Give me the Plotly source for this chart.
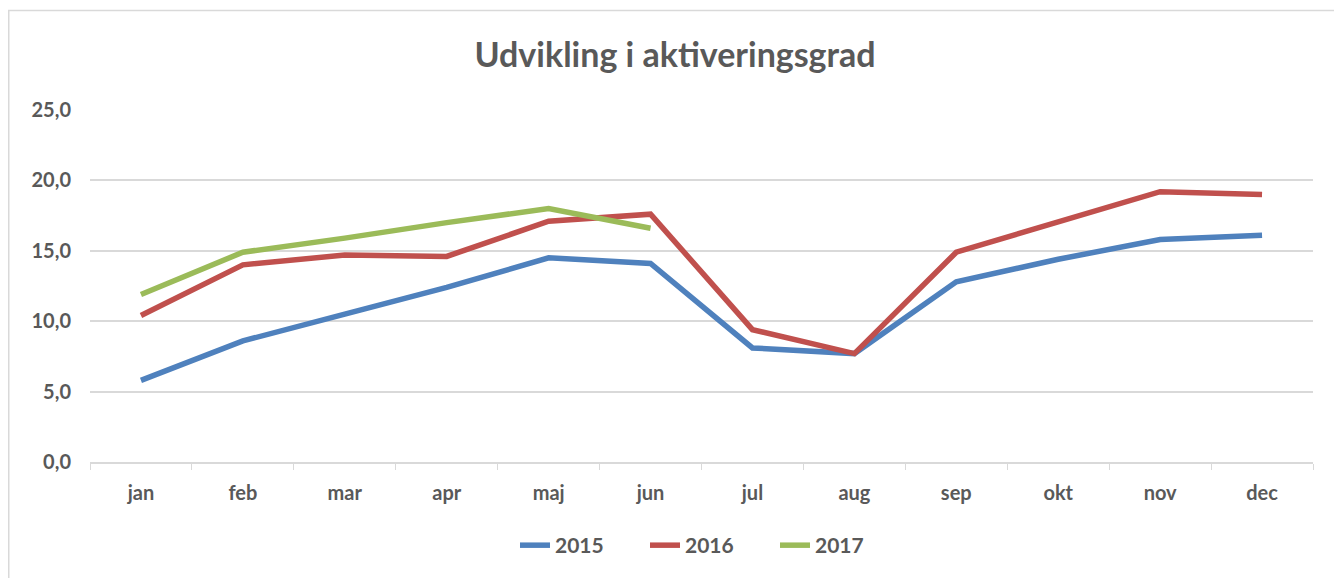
import plotly.graph_objects as go

months = ["jan", "feb", "mar", "apr", "maj", "jun", "jul", "aug", "sep", "okt", "nov", "dec"]
y2015 = [5.8, 8.6, 10.5, 12.4, 14.5, 14.1, 8.1, 7.7, 12.8, 14.4, 15.8, 16.1]
y2016 = [10.4, 14.0, 14.7, 14.6, 17.1, 17.6, 9.4, 7.7, 14.9, 17.0, 19.2, 19.0]
y2017 = [11.9, 14.9, 15.9, 17.0, 18.0, 16.6]
series = [("2015", y2015, "#4f81bd"), ("2016", y2016, "#c0504d"), ("2017", y2017, "#9bbb59")]
yticks = [0, 5, 10, 15, 20, 25]
ytick_labels = ["0,0", "5,0", "10,0", "15,0", "20,0", "25,0"]

# page body has an 8px margin, so the figure is placed at (8, 8)
W, H = 1334, 570
L, R, T, B = 82, 29, 102, 114

fig = go.Figure()
for name, vals, col in series:
    fig.add_trace(go.Scatter(x=months[:len(vals)], y=vals, mode="lines", name="<b>" + name + "</b>",
                             line=dict(color=col, width=5.5)))

font_fam = "Lato, Open Sans, sans-serif"
pw = W - L - R
ph = H - T - B
fig.update_layout(
    width=W, height=H,
    margin=dict(l=L, r=R, t=T, b=B),
    paper_bgcolor="white", plot_bgcolor="white",
    title=dict(text="<b>Udvikling i aktiveringsgrad</b>", x=0.5, xanchor="center",
               y=1 - 47 / H, yanchor="middle",
               font=dict(family=font_fam, size=34, color="#595959")),
    font=dict(family=font_fam, color="#595959"),
    xaxis=dict(type="category", categoryorder="array", categoryarray=months,
               range=[-0.5, 11.5], showgrid=False, showline=True, linecolor="#d9d9d9",
               linewidth=1.5, ticks="outside", tickson="boundaries", ticklen=6,
               tickcolor="#d9d9d9", tickfont=dict(size=20, color="#595959", family=font_fam),
               tickprefix="<b>", ticksuffix="</b>", ticklabelstandoff=12, fixedrange=True),
    yaxis=dict(range=[0, 25], tickvals=yticks, ticktext=["<b>" + t + "</b>" for t in ytick_labels],
               showgrid=True, gridcolor="#d9d9d9", gridwidth=1.5, zeroline=False,
               showline=False, ticks="", tickfont=dict(size=20, color="#595959", family=font_fam),
               ticklabelstandoff=18),
    legend=dict(orientation="h", x=(507 - L) / pw, xanchor="left",
                y=-(540 - (H - B)) / ph, yanchor="middle",
                entrywidth=85, entrywidthmode="pixels",
                font=dict(size=21, color="#595959", family=font_fam),
                traceorder="normal"),
    showlegend=True,
)
# light grey chart frame (Excel chart border)
fig.add_shape(type="rect", xref="paper", yref="paper", x0=(0.75 - L) / pw, x1=1 + (R + 5) / pw,
              y0=-(B + 5) / ph, y1=1 + (T - 2) / ph, line=dict(color="#d9d9d9", width=1.5), layer="below")

fig.write_html("out.html")
